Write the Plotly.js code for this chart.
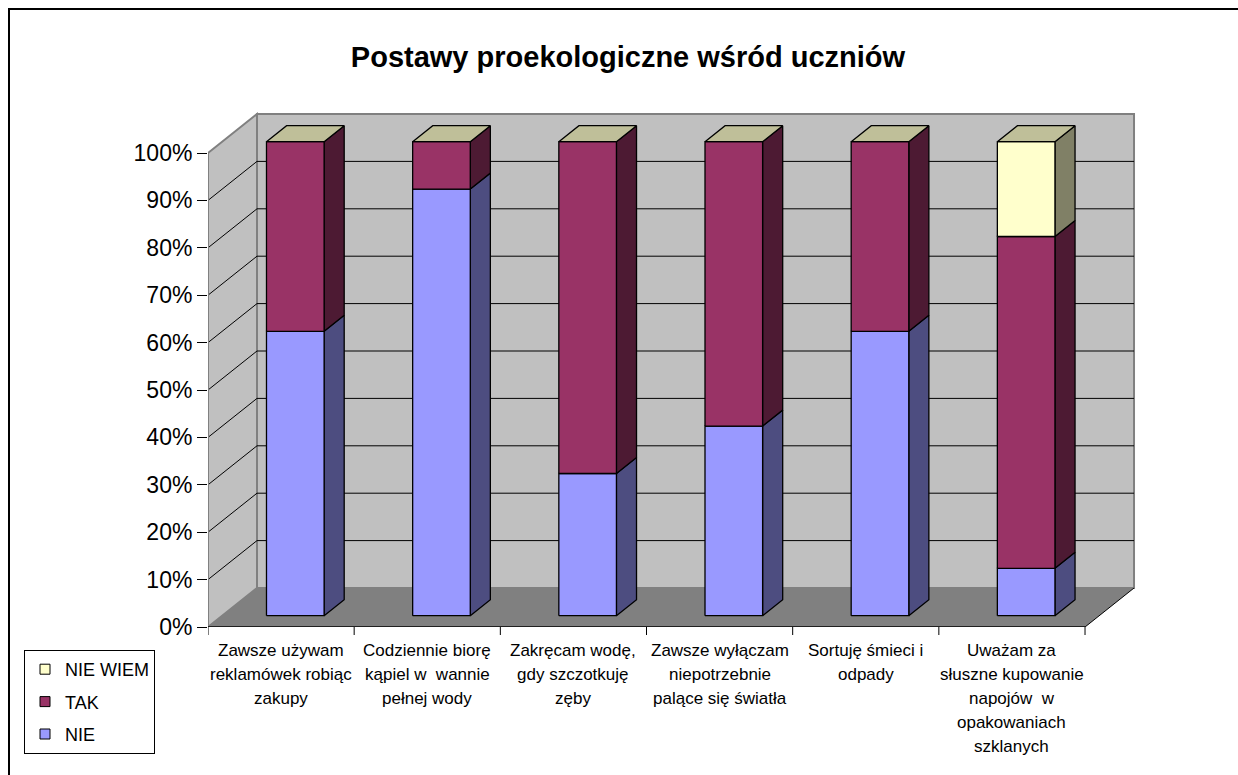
<!DOCTYPE html>
<html>
<head>
<meta charset="utf-8">
<script src="https://cdn.plot.ly/plotly-3.0.1.min.js"></script>
<style>
html,body{margin:0;padding:0;background:#fff;}
#chart{width:1238px;height:775px;}
</style>
</head>
<body>
<div id="chart"></div>
<script>
// ---- data ----
const categories = [
  "Zawsze używam<br>reklamówek robiąc<br>zakupy",
  "Codziennie biorę<br>kąpiel w  wannie<br>pełnej wody",
  "Zakręcam wodę,<br>gdy szczotkuję<br>zęby",
  "Zawsze wyłączam<br>niepotrzebnie<br>palące się światła",
  "Sortuję śmieci i<br>odpady",
  "Uważam za<br>słuszne kupowanie<br>napojów  w<br>opakowaniach<br>szklanych"
];
const seriesNames = ["NIE", "TAK", "NIE WIEM"];
const nieValues = [60, 90, 30, 40, 60, 10];
const takValues = [40, 10, 70, 60, 40, 70];
const nieWiemValues = [0, 0, 0, 0, 0, 20];
const yTickValues = [0, 10, 20, 30, 40, 50, 60, 70, 80, 90, 100];
const yTickLabels = ["0%", "10%", "20%", "30%", "40%", "50%", "60%", "70%", "80%", "90%", "100%"];

// ---- styling / geometry ----
const FONT = "Liberation Sans, Arial, Helvetica, sans-serif";
const W = 1238, H = 775;
const PL = 208, PR = 1140, PT = 110, PB = 627;
const catPx = 146.17;      // px per category on front plane
const pctPx = 4.74;        // px per percent
const depthDxPx = 49, depthDyPx = 39;
const DX = depthDxPx / catPx;
const DY = depthDyPx / pctPx;
const nCat = categories.length;
const xMin = -0.5, xMax = nCat - 0.5;
const xRange = [xMin, xMin + (PR - PL) / catPx];
const yRange = [0, (PB - PT) / pctPx];
const FF = 0.29, FB = 0.70;     // bar front / back depth fractions
const BW = 57.6 / catPx / 2;    // bar half-width
const frontColors = ["#9999FF", "#993366", "#FFFFCC"];
const sideColors  = ["#4D4D80", "#4D1A33", "#808066"];
const topColor = "#BFBF99";

function P(u, v, d) { return [u + d * DX, v + d * DY]; }
function pathOf(pts) {
  return pts.map((p, i) => (i ? "L" : "M") + p[0] + "," + p[1]).join(" ") + " Z";
}
function px2paperX(px) { return (px - PL) / (PR - PL); }
function px2paperY(py) { return (PB - py) / (PB - PT); }

const traces = [];
function poly(pts, color) {
  const xs = pts.map(p => p[0]); xs.push(pts[0][0]);
  const ys = pts.map(p => p[1]); ys.push(pts[0][1]);
  traces.push({
    type: "scatter", mode: "lines", x: xs, y: ys, fill: "toself",
    fillcolor: color, line: {color: "#000", width: 1.3},
    hoverinfo: "skip", showlegend: false
  });
}

// ---- bars ----
const seriesVals = [nieValues, takValues, nieWiemValues];
for (let i = 0; i < nCat; i++) {
  let base = 0;
  const x0 = i - BW, x1 = i + BW;
  for (let s = 0; s < seriesVals.length; s++) {
    const h = seriesVals[s][i];
    if (h > 0) {
      const t = base + h;
      poly([P(x1, base, FF), P(x1, base, FB), P(x1, t, FB), P(x1, t, FF)], sideColors[s]);
      poly([P(x0, base, FF), P(x1, base, FF), P(x1, t, FF), P(x0, t, FF)], frontColors[s]);
      base = t;
    }
  }
  poly([P(x0, base, FF), P(x1, base, FF), P(x1, base, FB), P(x0, base, FB)], topColor);
}

// ---- legend entries ----
const legendOrder = [2, 1, 0];
legendOrder.forEach((s, k) => {
  traces.push({
    type: "scatter", mode: "markers", x: [null], y: [null],
    name: seriesNames[s], legendgroup: "g" + k,
    marker: {symbol: "square", size: 10, color: frontColors[s], line: {color: "#000", width: 1}},
    showlegend: true, hoverinfo: "skip"
  });
});

// ---- walls, floor, gridlines ----
const shapes = [];
const yTop = 100;
// left wall
shapes.push({type: "path", xref: "x", yref: "y", layer: "below",
  path: pathOf([P(xMin, 0, 0), P(xMin, yTop, 0), P(xMin, yTop, 1), P(xMin, 0, 1)]),
  fillcolor: "#C0C0C0", line: {color: "#808080", width: 2}});
// back wall
shapes.push({type: "path", xref: "x", yref: "y", layer: "below",
  path: pathOf([P(xMin, 0, 1), P(xMin, yTop, 1), P(xMax, yTop, 1), P(xMax, 0, 1)]),
  fillcolor: "#C0C0C0", line: {color: "#808080", width: 2}});
// floor
shapes.push({type: "path", xref: "x", yref: "y", layer: "below",
  path: pathOf([P(xMin, 0, 0), P(xMax, 0, 0), P(xMax, 0, 1), P(xMin, 0, 1)]),
  fillcolor: "#808080", line: {width: 0}});
// gridlines
yTickValues.forEach(v => {
  if (v <= 0 || v >= 100) return;
  const a = P(xMin, v, 0), b = P(xMin, v, 1), c = P(xMax, v, 1);
  shapes.push({type: "line", xref: "x", yref: "y", layer: "below",
    x0: a[0], y0: a[1], x1: b[0], y1: b[1], line: {color: "#000", width: 1}});
  shapes.push({type: "line", xref: "x", yref: "y", layer: "below",
    x0: b[0], y0: b[1], x1: c[0], y1: c[1], line: {color: "#000", width: 1}});
});
// floor right diagonal edge
(function () {
  const a = P(xMax, 0, 0), b = P(xMax, 0, 1);
  shapes.push({type: "line", xref: "x", yref: "y", layer: "below",
    x0: a[0], y0: a[1], x1: b[0], y1: b[1], line: {color: "#000", width: 1}});
})();
// left wall front edge (axis line up to 100%)
shapes.push({type: "line", xref: "x", yref: "y", layer: "below",
  x0: xMin, y0: 0, x1: xMin, y1: yTop, line: {color: "#808080", width: 2}});
// front axis line (floor front edge)
shapes.push({type: "line", xref: "x", yref: "y", layer: "above",
  x0: xMin, y0: 0, x1: xMax, y1: 0, line: {color: "#000", width: 1.5}});
// category boundary ticks
for (let i = 0; i <= nCat; i++) {
  shapes.push({type: "line", xref: "x", yref: "paper", layer: "above",
    x0: xMin + i, x1: xMin + i, y0: 0, y1: -8 / (PB - PT), line: {color: "#000", width: 1}});
}
// outer frame
shapes.push({type: "rect", xref: "paper", yref: "paper", layer: "above",
  x0: px2paperX(9), x1: px2paperX(1250), y0: px2paperY(9), y1: px2paperY(790),
  line: {color: "#000", width: 2}, fillcolor: "rgba(0,0,0,0)"});

// ---- category labels (one annotation per line) ----
const annotations = [];
categories.forEach((c, i) => {
  c.split("<br>").forEach((line, k) => {
    annotations.push({xref: "x", yref: "paper", x: i, y: 0, yanchor: "middle",
      yshift: -23 - 24 * k, text: line, showarrow: false,
      font: {family: FONT, size: 17, color: "#000"}});
  });
});

const layout = {
  width: W, height: H,
  margin: {l: PL, r: W - PR, t: PT, b: H - PB, pad: 0},
  paper_bgcolor: "#fff", plot_bgcolor: "rgba(0,0,0,0)",
  font: {family: FONT, color: "#000"},
  title: {text: "<b>Postawy proekologiczne wśród uczniów</b>",
    font: {family: FONT, size: 29, color: "#000"},
    xref: "container", yref: "container", x: 628 / W, xanchor: "center",
    y: 1 - 57 / H, yanchor: "middle"},
  xaxis: {range: xRange, showgrid: false, zeroline: false, showline: false,
    showticklabels: false, ticks: "", fixedrange: true},
  yaxis: {range: yRange, showgrid: false, zeroline: false, showline: false,
    tickmode: "array", tickvals: yTickValues, ticktext: yTickLabels,
    ticks: "outside", ticklen: 10, tickcolor: "#000", tickwidth: 1,
    tickfont: {family: FONT, size: 23, color: "#000"}, fixedrange: true},
  showlegend: true,
  legend: {x: px2paperX(24), y: px2paperY(650), xanchor: "left", yanchor: "top",
    xref: "paper", yref: "paper",
    bgcolor: "#fff", bordercolor: "#000", borderwidth: 1,
    font: {family: FONT, size: 18, color: "#000"},
    traceorder: "grouped", tracegroupgap: 6, itemwidth: 30},
  shapes: shapes,
  annotations: annotations
};

Plotly.newPlot("chart", traces, layout, {displayModeBar: false, staticPlot: true});
</script>
</body>
</html>
